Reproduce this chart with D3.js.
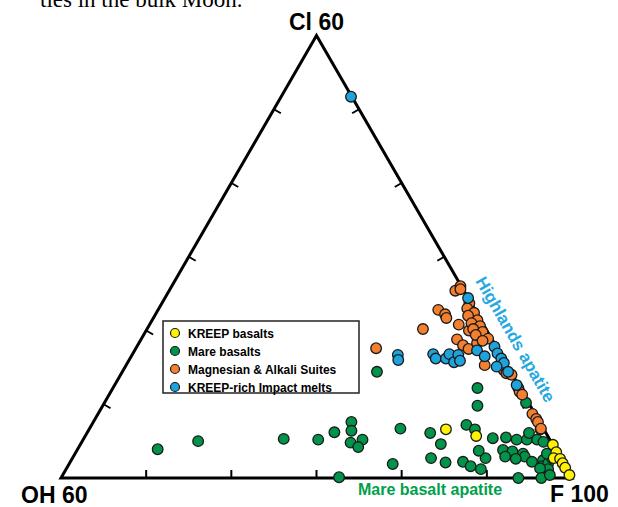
<!DOCTYPE html>
<html>
<head>
<meta charset="utf-8">
<script src="https://cdn.jsdelivr.net/npm/d3@7"></script>
<style>
  body { margin: 0; background: #fff; }
  svg { display: block; }
</style>
</head>
<body>
<div id="graphArea"></div>
<script>

// every point is [Cl, OH] in mol%, F = 100 - Cl - OH
var kreepBasalts = [[6.6,11.5],[5.7,8.4],[4.5,0.0],[3.5,0.1],[2.7,0.8],[2.6,0.1],[2.0,0.1],[1.4,0.1],[0.4,0.1]]

var mareBasalts = [[12.2,5.0],[9.8,6.2],[10.2,0.3],[14.4,15.7],[3.9,46.7],[5.0,41.4],[5.3,31.2],[5.2,27.2],
	[6.2,24.8],[7.6,22.1],[6.4,22.7],[4.8,23.6],[5.2,22.0],[4.2,23.0],[0.1,27.3],[6.7,16.8],[1.9,20.1],
	[6.1,13.6],[4.6,13.1],[2.7,15.2],[2.1,13.8],[7.2,8.8],[6.6,8.1],[2.2,11.7],[1.6,11.1],[1.2,10.1],
	[2.7,8.8],[3.7,9.1],[5.4,6.6],[5.5,5.0],[5.2,3.9],[5.2,2.7],[6.1,2.0],[5.2,1.5],[6.6,0.4],[4.9,0.9],
	[3.8,6.2],[3.6,5.2],[3.3,4.1],[2.9,4.1],[2.9,6.4],[2.6,5.3],[2.2,3.6],[2.4,2.2],[1.6,2.7],[2.0,1.8],
	[2.7,1.0],[1.2,2.2],[1.3,3.1],[0.0,6.3],[0.0,3.6],[0.4,2.4],[3.3,1.3]]

var magnesianAlkali = [[25.4,1.0],[26.0,0.1],[25.6,0.3],[22.8,4.3],[22.2,3.8],[21.7,3.9],[20.2,7.4],
	[20.8,2.9],[20.0,2.1],[18.8,4.1],[18.0,3.8],[17.5,3.4],[18.3,2.0],[15.3,2.6],[17.6,14.2],
	[23.7,0.2],[23.0,0.8],[22.4,0.3],[22.0,1.2],[21.4,0.4],[21.0,1.3],[20.6,0.5],[20.2,1.5],[19.8,0.6],
	[19.4,1.6],[18.9,0.4],[18.6,1.2],[14.6,0.7],[14.2,0.6],[14.0,0.1],[12.2,0.2],[11.7,0.3],[11.3,0.2],
	[8.7,0.3],[8.0,0.2],[7.6,0.2],[6.7,0.3]]

var impactMelts = [[51.7,0.1],[24.4,0.0],[17.3,2.5],[16.5,2.0],[17.8,0.2],[16.9,0.3],[16.2,0.2],[15.6,0.2],
	[15.1,1.3],[14.4,0.3],[12.6,0.2],[16.8,7.9],[16.2,7.9],[16.2,6.7],[16.8,6.0],[15.7,6.0],[16.7,5.0],
	[15.9,5.2],[16.7,12.1],[16.0,12.4]]

var seriesNames = ["KREEP basalts","Mare basalts","Magnesian & Alkali Suites","KREEP-rich Impact melts"]
var seriesColors = ["#fff200","#00944a","#f47f2e","#1ea3dc"]
var cornerLabels = ["Cl 60","OH 60","F 100"]
var tickValues = [10,20,30,40,50]

var width = 618, height = 507

var svg = d3.select("#graphArea").append("svg")
	.attr("width", width)
	.attr("height", height)

// corners of the F >= 40 sub-triangle
var cornerF = [572, 478], cornerCl = [316.5, 35.5], cornerOH = [61, 478]

var clScale = d3.scaleLinear().domain([0, 60]).range([0, 1])
var ohScale = d3.scaleLinear().domain([0, 60]).range([0, 1])

function project(cl, oh) {
	var a = clScale(cl), b = ohScale(oh)
	return [cornerF[0] + a * (cornerCl[0] - cornerF[0]) + b * (cornerOH[0] - cornerF[0]),
		cornerF[1] + a * (cornerCl[1] - cornerF[1]) + b * (cornerOH[1] - cornerF[1])]
}

// text cut off at the top of the page
svg.append("text")
	.attr("x", 40).attr("y", 7)
	.attr("font-family", "'Liberation Serif', 'Times New Roman', serif")
	.attr("font-size", 23)
	.text("ties in the bulk Moon.")

// triangle
svg.append("path")
	.attr("d", d3.line()([project(0,0), project(60,0), project(0,60)]) + "Z")
	.attr("fill", "none")
	.attr("stroke", "#000")
	.attr("stroke-width", 3)
	.attr("stroke-linejoin", "miter")

// ticks, pointing into the triangle
var tickLen = 8
var edges = [
	{ pos: function(v) { return project(0, v) }, n: [0, -1] },
	{ pos: function(v) { return project(v, 0) }, n: [-0.866, 0.5] },
	{ pos: function(v) { return project(v, 60 - v) }, n: [0.866, 0.5] }
]
edges.forEach(function(e) {
	svg.selectAll(null)
		.data(tickValues)
		.enter()
		.append("line")
		.attr("x1", function(d) { return e.pos(d)[0] })
		.attr("y1", function(d) { return e.pos(d)[1] })
		.attr("x2", function(d) { return e.pos(d)[0] + e.n[0] * tickLen })
		.attr("y2", function(d) { return e.pos(d)[1] + e.n[1] * tickLen })
		.attr("stroke", "#000")
		.attr("stroke-width", 2)
})

// points
var allSeries = [
	{ data: mareBasalts, color: seriesColors[1] },
	{ data: magnesianAlkali, color: seriesColors[2] },
	{ data: impactMelts, color: seriesColors[3] },
	{ data: kreepBasalts, color: seriesColors[0] }
]
allSeries.forEach(function(s) {
	svg.append("g").selectAll("circle")
		.data(s.data)
		.enter()
		.append("circle")
		.attr("cx", function(d) { return project(d[0], d[1])[0] })
		.attr("cy", function(d) { return project(d[0], d[1])[1] })
		.attr("r", 5.3)
		.attr("fill", s.color)
		.attr("stroke", "#1a1a1a")
		.attr("stroke-width", 1.3)
})

// corner labels
var labelFont = "'Liberation Sans', Arial, Helvetica, sans-serif"
svg.append("text").attr("x", 316.5).attr("y", 30).attr("text-anchor", "middle")
	.attr("font-family", labelFont).attr("font-weight", "bold").attr("font-size", 23)
	.text(cornerLabels[0])
svg.append("text").attr("x", 21).attr("y", 503)
	.attr("font-family", labelFont).attr("font-weight", "bold").attr("font-size", 23)
	.text(cornerLabels[1])
svg.append("text").attr("x", 550).attr("y", 502)
	.attr("font-family", labelFont).attr("font-weight", "bold").attr("font-size", 23)
	.text(cornerLabels[2])

// side labels
svg.append("text")
	.attr("transform", "translate(475,281) rotate(60)")
	.attr("font-family", labelFont).attr("font-weight", "bold").attr("font-size", 17)
	.attr("fill", "#27a8e0")
	.text("Highlands apatite")

svg.append("text").attr("x", 358).attr("y", 495)
	.attr("font-family", labelFont).attr("font-weight", "bold").attr("font-size", 16)
	.attr("fill", "#00a04b")
	.text("Mare basalt apatite")

// legend
var legend = svg.append("g").attr("transform", "translate(163,321)")
legend.append("rect")
	.attr("width", 196).attr("height", 72)
	.attr("fill", "#fff").attr("stroke", "#222").attr("stroke-width", 1.5)
var rows = legend.selectAll("g.row")
	.data(seriesNames)
	.enter()
	.append("g")
	.attr("class", "row")
	.attr("transform", function(d, i) { return "translate(0," + (12 + i * 18) + ")" })
rows.append("circle")
	.attr("cx", 12).attr("r", 4.5)
	.attr("fill", function(d, i) { return seriesColors[i] })
	.attr("stroke", "#1a1a1a").attr("stroke-width", 1.2)
rows.append("text")
	.attr("x", 25).attr("y", 4.5)
	.attr("font-family", labelFont).attr("font-weight", "bold").attr("font-size", 12)
	.text(function(d) { return d })

</script>
</body>
</html>
